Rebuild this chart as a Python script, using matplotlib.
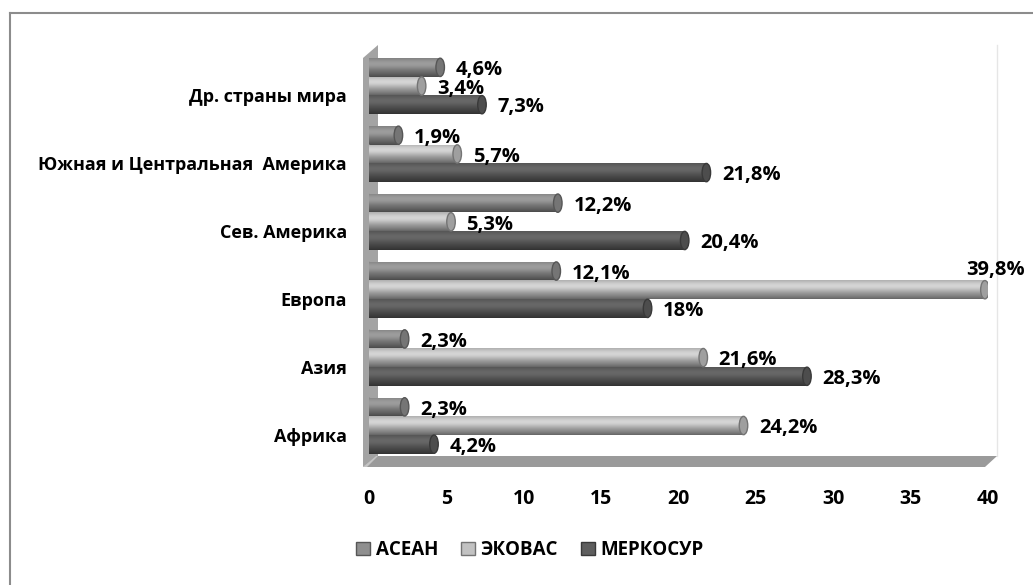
import numpy as np
import matplotlib
matplotlib.use("Agg")
import matplotlib.pyplot as plt
from matplotlib.patches import Rectangle, Ellipse, Polygon, Patch
from matplotlib.transforms import ScaledTranslation
from matplotlib.lines import Line2D

plt.rcParams['font.family'] = ['Open Sans', 'DejaVu Sans']
plt.rcParams['font.weight'] = 'bold'

# ---------------- data ----------------
categories = ["Африка", "Азия", "Европа", "Сев. Америка",
              "Южная и Центральная  Америка", "Др. страны мира"]
series_names = ["АСЕАН", "ЭКОВАС", "МЕРКОСУР"]
asean = [2.3, 2.3, 12.1, 12.2, 1.9, 4.6]
ecowas = [24.2, 21.6, 39.8, 5.3, 5.7, 3.4]
mercosur = [4.2, 28.3, 18.0, 20.4, 21.8, 7.3]
label_asean = ["2,3%", "2,3%", "12,1%", "12,2%", "1,9%", "4,6%"]
label_ecowas = ["24,2%", "21,6%", "39,8%", "5,3%", "5,7%", "3,4%"]
label_mercosur = ["4,2%", "28,3%", "18%", "20,4%", "21,8%", "7,3%"]
xticks = [0, 5, 10, 15, 20, 25, 30, 35, 40]

series_values = [asean, ecowas, mercosur]
series_labels = [label_asean, label_ecowas, label_mercosur]
base_gray = [0.56, 0.76, 0.37]

FS = 13
FS_X = 14
FS_LAB = 14.5
FS_LEG = 13.5

W, H = 1033, 585
fig = plt.figure(figsize=(W / 100, H / 100), dpi=100)


def fx(x):
    return x / W


def fy(y):
    return 1 - y / H


# outer frame
fig.add_artist(Line2D([fx(10), fx(10)], [fy(13), 0], color="#8c8c8c", lw=1.5, zorder=-5))
fig.add_artist(Line2D([fx(10), 1], [fy(13), fy(13)], color="#8c8c8c", lw=1.5, zorder=-5))
# back wall right edge
fig.add_artist(Line2D([fx(997), fx(997)], [fy(45), fy(456)], color="#e6e6e6", lw=1, zorder=-5))
# left wall
fig.add_artist(Polygon([(fx(363), fy(58)), (fx(378), fy(45)), (fx(378), fy(456)),
                        (fx(363), fy(467))], closed=True, transform=fig.transFigure,
                       facecolor="#a3a3a3", edgecolor="none", zorder=-5))
# floor
fig.add_artist(Polygon([(fx(363), fy(467)), (fx(376), fy(456)), (fx(997), fy(456)),
                        (fx(985), fy(467))], closed=True, transform=fig.transFigure,
                       facecolor="#9a9a9a", edgecolor="none", zorder=-5))
fig.add_artist(Polygon([(fx(363), fy(467)), (fx(376), fy(456)), (fx(378), fy(456)),
                        (fx(367), fy(467))], closed=True, transform=fig.transFigure,
                       facecolor="#c4c4c4", edgecolor="none", zorder=-5))

ax = fig.add_axes([fx(369), fy(467), (988 - 369) / W, (467 - 45) / H])
ax.set_zorder(1)
ax.patch.set_alpha(0)
for s in ax.spines.values():
    s.set_visible(False)

bar_h = 0.275
offsets = [bar_h, 0.0, -bar_h]
cap_w = 0.55  # data units along x (ellipse full width)

t = np.linspace(0, 1, 64)
profile = 0.80 + 0.30 * np.exp(-((t - 0.3) / 0.3) ** 2) - 0.28 * t ** 4


def draw_cyl(v, yc, g):
    col = np.clip(g * profile, 0, 1)
    img = np.repeat(col[:, None, None], 3, axis=2)
    y0, y1 = yc - bar_h / 2, yc + bar_h / 2
    for clip in (Rectangle((0, y0), v, bar_h, transform=ax.transData),
                 Ellipse((0, yc), cap_w, bar_h, transform=ax.transData)):
        im = ax.imshow(img, extent=(-cap_w / 2, v, y0, y1), aspect="auto",
                       interpolation="bilinear", origin="upper", zorder=2)
        im.set_clip_path(clip)
    ax.add_patch(Ellipse((v, yc), cap_w, bar_h * 0.98, facecolor=(g * 0.82,) * 3,
                         edgecolor=(g * 0.6,) * 3, lw=1.0, zorder=3))


ypos = np.arange(len(categories))
for si, (vals, g) in enumerate(zip(series_values, base_gray)):
    for i, v in enumerate(vals):
        draw_cyl(v, ypos[i] + offsets[si], g)

# data labels
for si, (vals, labs) in enumerate(zip(series_values, series_labels)):
    for i, (v, lab) in enumerate(zip(vals, labs)):
        yc = ypos[i] + offsets[si]
        if v + 4 > 40:
            ax.text(v + 0.7, yc + bar_h * 1.05, lab, ha="center", va="center",
                    fontsize=FS_LAB, fontweight="bold", zorder=5, clip_on=False)
        else:
            ax.text(v + 1.0, yc - 0.04, lab, ha="left", va="center",
                    fontsize=FS_LAB, fontweight="bold", zorder=5)

ax.set_xlim(0, 40)
ax.set_ylim(-0.611, 5.604)
ax.set_xticks(xticks)
ax.set_xticklabels([str(x) for x in xticks])
ax.set_yticks(ypos)
ax.set_yticklabels(categories)
ax.tick_params(axis="both", length=0)
ax.tick_params(axis="x", pad=16, labelsize=FS_X)
ax.tick_params(axis="y", pad=16, labelsize=FS)
for lab in ax.get_xticklabels() + ax.get_yticklabels():
    lab.set_fontweight("bold")
for lab in ax.get_yticklabels():
    lab.set_transform(lab.get_transform() + ScaledTranslation(0, -9 / 100, fig.dpi_scale_trans))

handles = [Patch(facecolor=(g,) * 3, edgecolor=(g * 0.6,) * 3, lw=1) for g in base_gray]
leg = fig.legend(handles, series_names, loc="center", bbox_to_anchor=(fx(530), fy(550)),
                 ncol=3, frameon=False, handlelength=0.75, handleheight=0.75,
                 handletextpad=0.3, columnspacing=1.2,
                 prop={"size": FS_LEG, "weight": "bold"})

fig.savefig("out.png", dpi=100)
